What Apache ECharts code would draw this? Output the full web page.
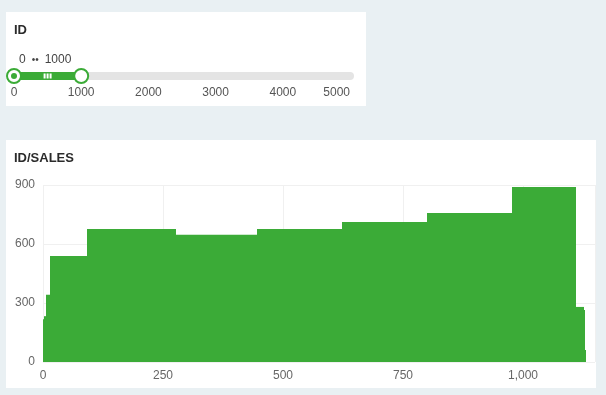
<!DOCTYPE html>
<html><head><meta charset="utf-8">
<script src="https://cdn.jsdelivr.net/npm/echarts@6/dist/echarts.min.js"></script>
<style>html,body{margin:0;padding:0;background:#e9f0f3}#c{width:606px;height:395px}</style>
</head><body><div id="c"></div>
<script>
// Sales histogram segments by ID: start ID, end ID, sales
var segStart = [0, 3, 6, 15, 92, 275, 446, 623, 800, 977, 1108, 1124, 1128];
var segEnd   = [3, 6, 15, 92, 275, 446, 623, 800, 977, 1108, 1124, 1128, 1131];
var segSales = [218, 233, 342, 539, 676, 647, 676, 712, 757, 890, 280, 264, 61];
var yTicks = [0, 300, 600, 900];
var xTicks = [0, 250, 500, 750, 1000];
// Range filter on ID
var filterMin = 0, filterMax = 5000;
var selLow = 0, selHigh = 1000;
var filterTicks = [0, 1000, 2000, 3000, 4000, 5000];

var FONT = 'Liberation Sans, Arial, sans-serif';
var GREEN = '#3bab37';
var segData = segStart.map(function (s, i) { return [s, segEnd[i], segSales[i]]; });

var chart = echarts.init(document.getElementById('c'), null, {renderer: 'canvas'});
chart.setOption({
  backgroundColor: '#e9f0f3',
  animation: false,
  textStyle: {fontFamily: FONT},
  graphic: [
    {type: 'rect', z: -10, shape: {x: 6, y: 12, width: 360, height: 94}, style: {fill: '#ffffff'}},
    {type: 'rect', z: -10, shape: {x: 6, y: 140, width: 590, height: 248}, style: {fill: '#ffffff'}}
  ],
  title: [
    {text: 'ID', left: 14, top: 24, padding: 0, textStyle: {fontSize: 13, fontWeight: 'bold', color: '#2b2b2b', fontFamily: FONT}},
    {text: 'ID/SALES', left: 14, top: 152, padding: 0, textStyle: {fontSize: 13, fontWeight: 'bold', color: '#2b2b2b', fontFamily: FONT}},
    {text: '{a|' + selLow + '}{d|••}{a|' + selHigh + '}', left: 19, top: 54, padding: 0,
     textStyle: {fontWeight: 'normal', rich: {
       a: {fontSize: 12, fontWeight: 'normal', color: '#444', fontFamily: FONT},
       d: {fontSize: 10, fontWeight: 'normal', color: '#444', fontFamily: FONT, padding: [0, 6, 0, 6]}}}}
  ],
  grid: [
    {left: 43, right: 11, top: 185, bottom: 33},
    {left: 14, width: 336, top: 75, height: 2}
  ],
  xAxis: [
    {gridIndex: 0, type: 'value', min: 0, max: 1150, interval: 250,
     axisLine: {show: false}, axisTick: {show: false},
     splitLine: {show: true, lineStyle: {color: '#f0f0f0'}},
     axisLabel: {color: '#666', fontSize: 12, margin: 8, showMaxLabel: false,
       formatter: function (v) { return xTicks.indexOf(v) >= 0 ? v.toLocaleString('en-US') : ''; }}},
    {gridIndex: 1, type: 'value', min: filterMin, max: filterMax, interval: 1000,
     axisLine: {show: false}, axisTick: {show: false}, splitLine: {show: false},
     axisLabel: {color: '#555', fontSize: 12, margin: 10, alignMaxLabel: 'right',
       formatter: function (v) { return filterTicks.indexOf(v) >= 0 ? String(v) : ''; }}}
  ],
  yAxis: [
    {gridIndex: 0, type: 'value', min: 0, max: 900, interval: 300,
     axisLine: {show: false}, axisTick: {show: false},
     splitLine: {show: true, lineStyle: {color: '#f0f0f0'}},
     axisLabel: {color: '#666', fontSize: 12, margin: 8,
       formatter: function (v) { return yTicks.indexOf(v) >= 0 ? String(v) : ''; }}},
    {gridIndex: 1, type: 'value', min: 0, max: 1, show: false}
  ],
  series: [
    {type: 'custom', xAxisIndex: 0, yAxisIndex: 0, data: segData,
     renderItem: function (params, api) {
       var p0 = api.coord([api.value(0), api.value(2)]);
       var p1 = api.coord([api.value(1), 0]);
       var x0 = Math.round(p0[0]), x1 = Math.round(p1[0]);
       var last = params.dataIndex === segData.length - 1;
       return {type: 'rect', shape: {x: x0, y: p0[1], width: Math.max(1, x1 - x0) + (last ? 0 : 1), height: p1[1] - p0[1]},
               style: {fill: GREEN, stroke: null}};
     }},
    {type: 'line', xAxisIndex: 1, yAxisIndex: 1, data: [[filterMin, 0.5], [filterMax, 0.5]],
     symbol: 'none', lineStyle: {color: '#e4e4e4', width: 8, cap: 'round'}, z: 1},
    {type: 'line', xAxisIndex: 1, yAxisIndex: 1, data: [[selLow, 0.5], [selHigh, 0.5]],
     symbol: 'none', lineStyle: {color: GREEN, width: 8, cap: 'round'}, z: 2},
    {type: 'scatter', xAxisIndex: 1, yAxisIndex: 1, data: [[(selLow + selHigh) / 2, 0.5]],
     symbol: 'path://M0,0h2v4h-2zM3,0h2v4h-2zM6,0h2v4h-2z', symbolSize: [8, 5],
     itemStyle: {color: '#ffffff', opacity: 1}, z: 3},
    {type: 'scatter', xAxisIndex: 1, yAxisIndex: 1, data: [[selLow, 0.5], [selHigh, 0.5]],
     symbol: 'circle', symbolSize: 14,
     itemStyle: {color: '#ffffff', borderColor: GREEN, borderWidth: 2, opacity: 1}, z: 4},
    {type: 'scatter', xAxisIndex: 1, yAxisIndex: 1, data: [[selLow, 0.5]],
     symbol: 'circle', symbolSize: 6, itemStyle: {color: GREEN, opacity: 1}, z: 5}
  ]
});
</script></body></html>
